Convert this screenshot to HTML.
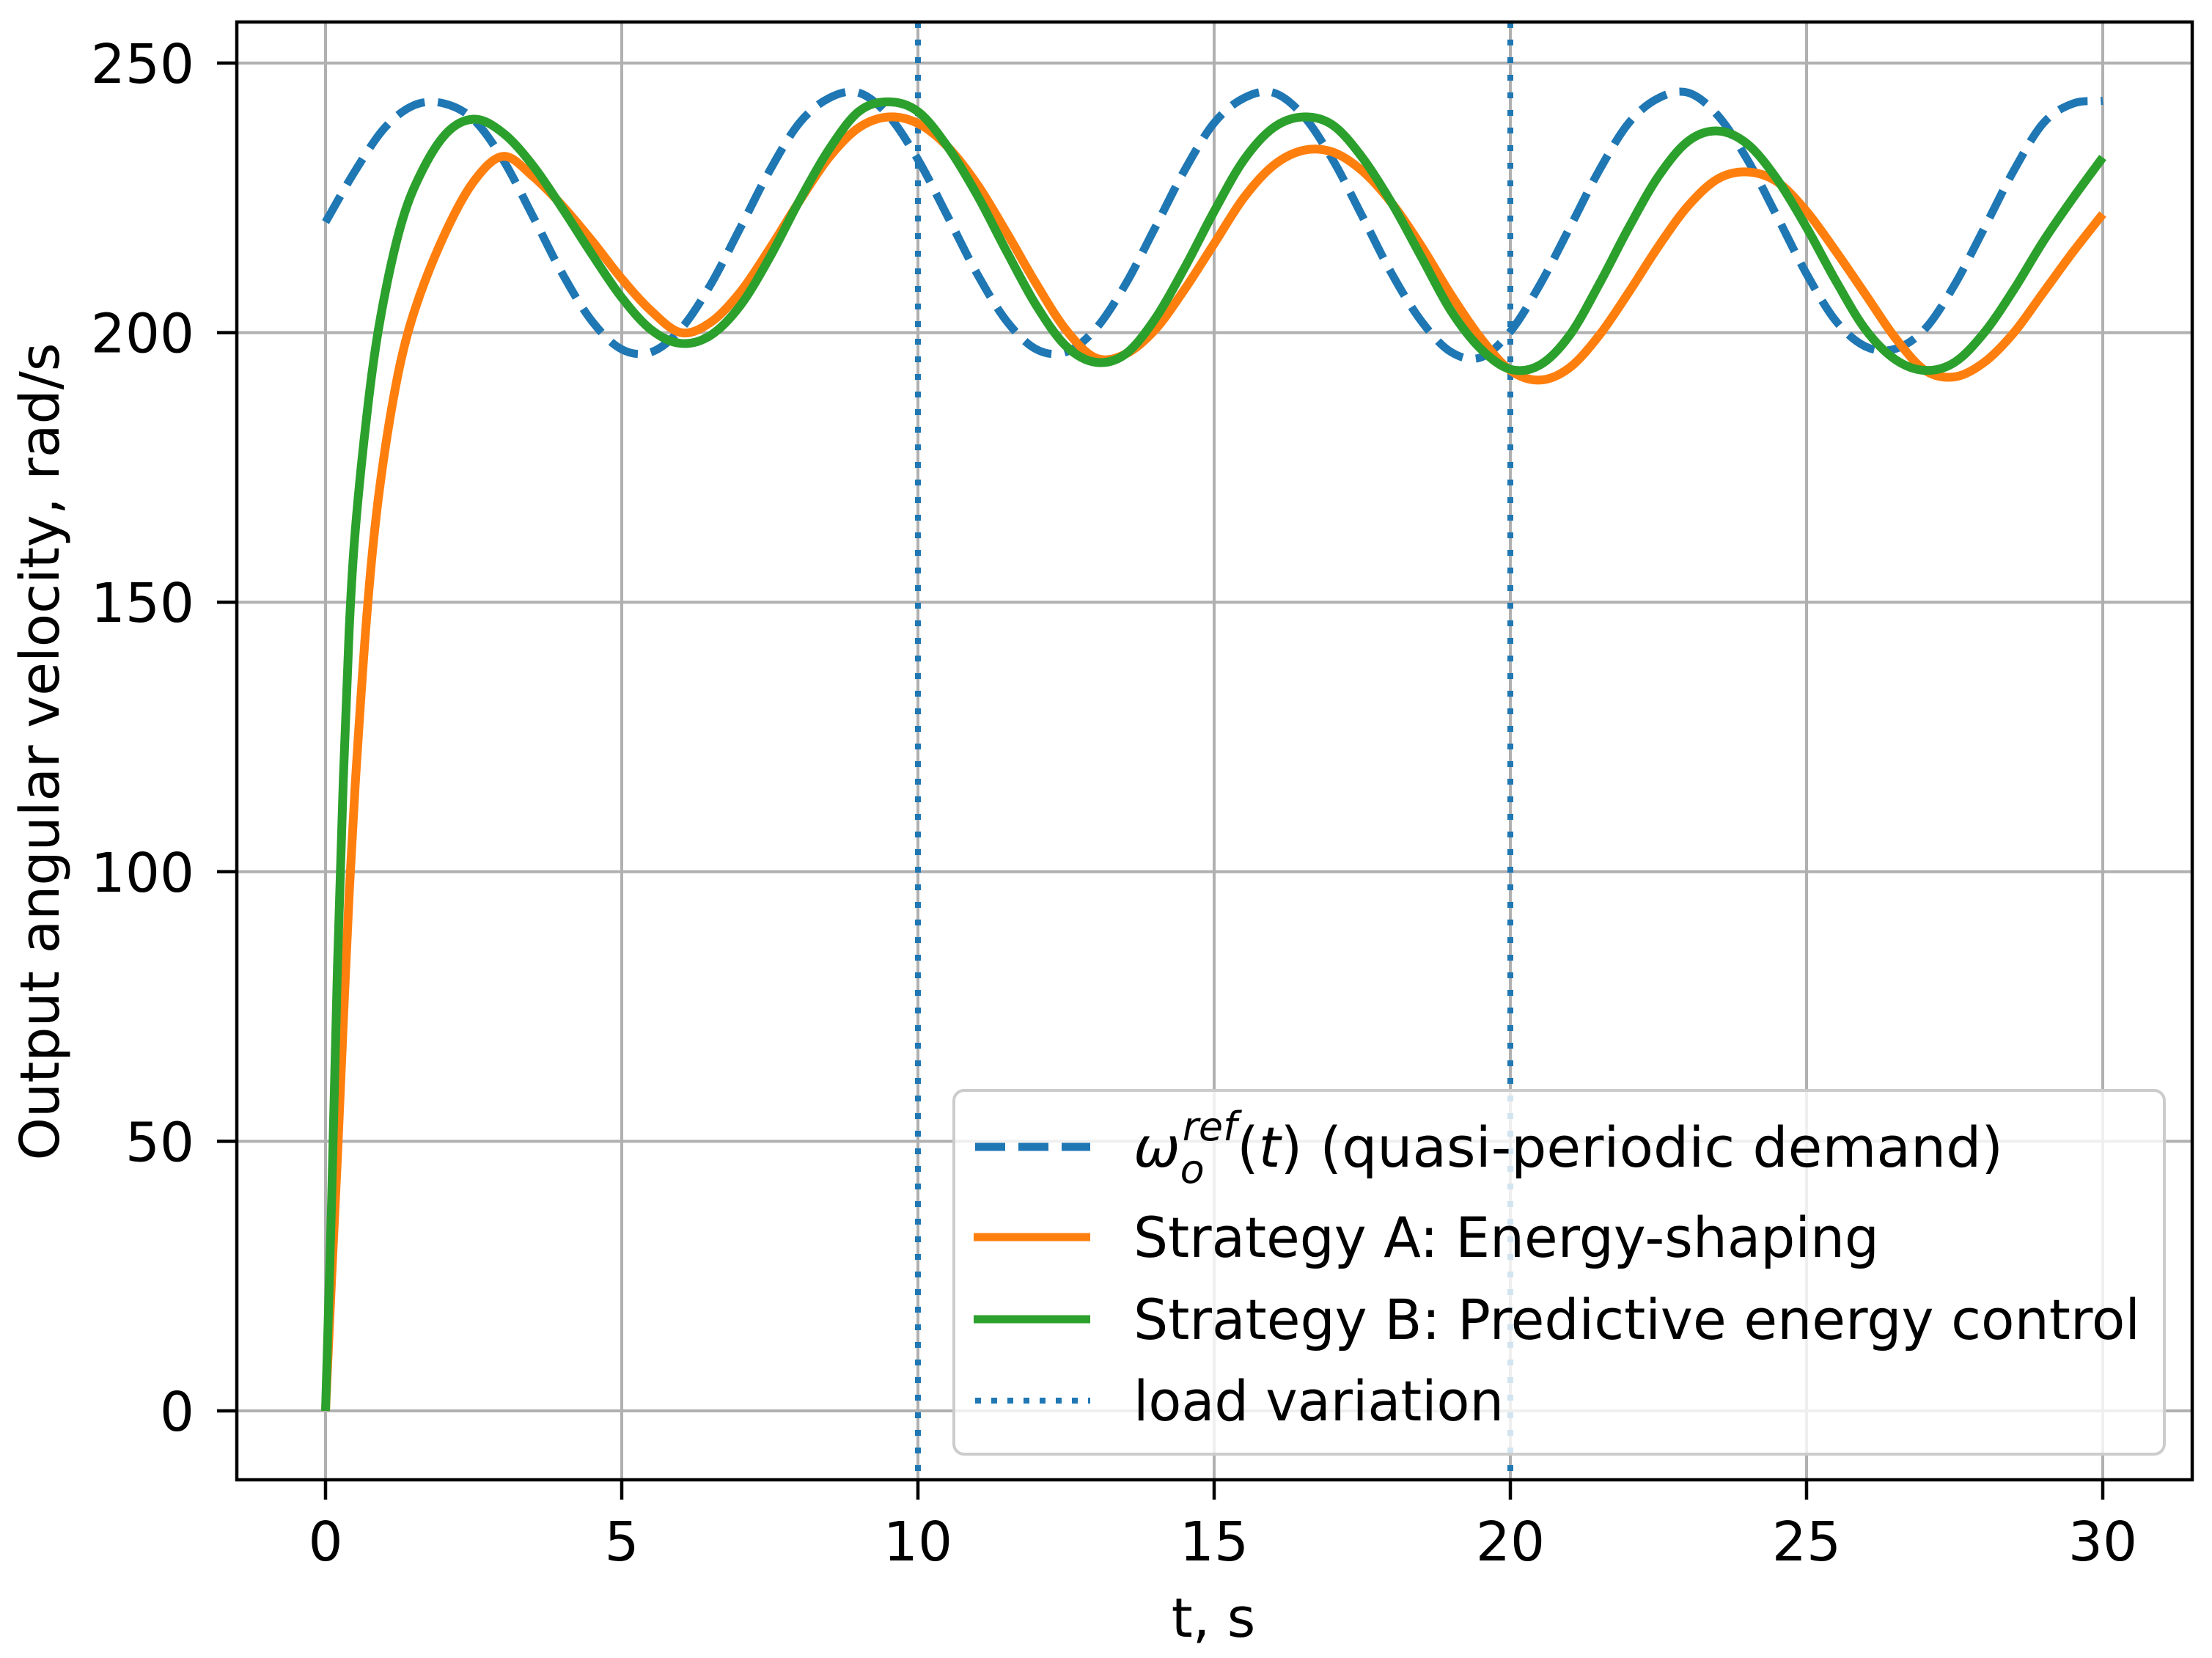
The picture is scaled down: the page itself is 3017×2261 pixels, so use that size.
<!DOCTYPE html>
<html><head><meta charset="utf-8"><style>
html,body{margin:0;padding:0;background:#fff;}
svg{display:block;font-family:"DejaVu Sans","Liberation Sans",sans-serif;}
</style></head><body>
<svg id="chart" width="3017" height="2261" viewBox="0 0 3017 2261" xmlns="http://www.w3.org/2000/svg">
<rect width="3017" height="2261" fill="#fff"/>
<g id="grid"></g>
<g id="vlines"></g>
<g id="series"></g>
<g id="legend">
  <rect x="1301" y="1487" width="1651" height="496" rx="14" fill="#fff" fill-opacity="0.8" stroke="#cccccc" stroke-width="4"/>
  <line x1="1330" y1="1564" x2="1487" y2="1564" stroke="#1f77b4" stroke-width="11" stroke-dasharray="41 18"/>
  <text x="1546" y="1591" font-size="76"><tspan font-style="italic">ω</tspan><tspan font-style="italic" font-size="54" dy="22">o</tspan><tspan font-style="italic" font-size="54" dx="-30" dy="-58">ref</tspan><tspan dy="36">(</tspan><tspan font-style="italic">t</tspan><tspan>) (quasi-periodic demand)</tspan></text>
  <line x1="1328" y1="1687" x2="1487" y2="1687" stroke="#ff7f0e" stroke-width="11"/>
  <text x="1546" y="1714" font-size="76" textLength="1017" lengthAdjust="spacingAndGlyphs">Strategy A: Energy-shaping</text>
  <line x1="1328" y1="1799" x2="1487" y2="1799" stroke="#2ca02c" stroke-width="11"/>
  <text x="1546" y="1826" font-size="76" textLength="1373" lengthAdjust="spacingAndGlyphs">Strategy B: Predictive energy control</text>
  <line x1="1330" y1="1910" x2="1487" y2="1910" stroke="#1f77b4" stroke-width="8" stroke-dasharray="8 14"/>
  <text x="1546" y="1937" font-size="76" textLength="505" lengthAdjust="spacingAndGlyphs">load variation</text>
</g>
<rect x="323" y="30" width="2667" height="1988" fill="none" stroke="#000" stroke-width="4.5"/>
<g id="ticks"></g>
<text x="1655" y="2232" font-size="74" text-anchor="middle">t, s</text>
<text transform="translate(80,1025) rotate(-90)" font-size="74" text-anchor="middle" textLength="1115" lengthAdjust="spacingAndGlyphs">Output angular velocity, rad/s</text>
</svg>
<script>
const xTicks = [0, 5, 10, 15, 20, 25, 30];
const yTicks = [0, 50, 100, 150, 200, 250];
const loadTimes = [10, 20];
const refT = [0,0.5,1,1.5,2,2.5,3,3.5,4,4.5,5,5.5,6,6.5,7,7.5,8,8.5,9,9.5,10,10.5,11,11.5,12,12.5,13,13.5,14,14.5,15,15.5,16,16.5,17,17.5,18,18.5,19,19.5,20,20.5,21,21.5,22,22.5,23,23.5,24,24.5,25,25.5,26,26.5,27,27.5,28,28.5,29,29.5,30];
const refVals = [220.5,230,238,242.2,242.5,239.5,232,221.6,210.9,202.1,196.9,196.4,200.7,208.9,219.4,230.1,238.9,243.5,244.5,240.3,232.1,221.6,210.9,202.1,196.9,196.4,200.7,208.9,219.4,230.1,238.9,243.5,244.5,240.3,232.1,221.6,210.9,202.1,196.4,195.4,200.2,208.9,219.4,230.1,238.9,243.5,244.5,240.3,232.1,221.6,210.9,202.1,197.4,197,200.7,208.9,219.4,230.1,238.9,242.5,243];
const ctrlT = [0,0.1,0.2,0.3,0.4,0.5,0.7,0.9,1.2,1.5,2,2.5,3,3.5,4,4.5,5,5.5,6,6.5,7,7.5,8,8.5,9,9.5,10,10.5,11,11.5,12,12.5,13,13.5,14,14.5,15,15.5,16,16.5,17,17.5,18,18.5,19,19.5,20,20.5,21,21.5,22,22.5,23,23.5,24,24.5,25,25.5,26,26.5,27,27.5,28,28.5,29,29.5,30];
const stratA = [0,24,47,72,96,116,148,170,191,204,218,228,232.7,229,223.5,217,210,204,200,201.9,207.5,215.6,224.4,232.5,238,240,238.8,234.5,227.5,218.5,209,200.5,195.3,196,200.5,208,216.5,225,231,233.8,233.5,230,224,216,207,199,193,191.2,193.5,199.5,207.5,216,223.5,228.5,229.8,228,222.5,215,207,199,193,191.8,194.5,200,207.5,215,222];
const stratB = [0,38,82,117,145,163,185,201,217,227,236.5,239.6,237,231,223,214.5,206.5,200.5,198,199.5,205,214,224.5,234,241,242.8,241,234.5,225.5,215,205,197.5,194.5,196,202.5,212,222.5,232,238,240,238.5,232.5,224,214,204,197,193.2,194,199.5,209,219.5,229,235.5,237.4,235,228.5,219.5,209.5,200.5,195,193,194.5,200,208,217,225,232.5];

const NS = 'http://www.w3.org/2000/svg';
const X0 = 444, XS = 80.8, Y0 = 1924, YS = 7.352;
const L = 323, R = 2990, T = 30, B = 2018;
function sx(t){ return X0 + t * XS; }
function sy(v){ return Y0 - v * YS; }
function mk(tag, attrs, parent){
  const e = document.createElementNS(NS, tag);
  for (const k in attrs) e.setAttribute(k, attrs[k]);
  parent.appendChild(e);
  return e;
}
const grid = document.getElementById('grid');
const ticks = document.getElementById('ticks');
xTicks.forEach(t => {
  const g = mk('line', {x1: sx(t), x2: sx(t), y1: T, y2: B, stroke: '#b0b0b0', 'stroke-width': 4}, grid);
  
  
  const tk = mk('line', {x1: sx(t), x2: sx(t), y1: B, y2: B + 27, stroke: '#000', 'stroke-width': 4.5}, ticks);
  
  
  const lb = mk('text', {x: sx(t), y: 2128, 'font-size': 74, 'text-anchor': 'middle'}, ticks);
  lb.textContent = String(t);
  
  
});
yTicks.forEach(v => {
  const g = mk('line', {x1: L, x2: R, y1: sy(v), y2: sy(v), stroke: '#b0b0b0', 'stroke-width': 4}, grid);
  
  
  const tk = mk('line', {x1: L - 27, x2: L, y1: sy(v), y2: sy(v), stroke: '#000', 'stroke-width': 4.5}, ticks);
  
  
  const lb = mk('text', {x: 265, y: sy(v) + 27, 'font-size': 74, 'text-anchor': 'end'}, ticks);
  lb.textContent = String(v);
  
  
});
const vl = document.getElementById('vlines');
loadTimes.forEach(t => {
  const l = mk('line', {x1: sx(t), x2: sx(t), y1: T, y2: B, stroke: '#1f77b4', 'stroke-width': 8, 'stroke-dasharray': '8 16'}, vl);
  
  
});
function smoothPath(ts, vs){
  const n = ts.length;
  const m = ts.map((t, i) => {
    const a = Math.max(0, i - 1), b = Math.min(n - 1, i + 1);
    return (vs[b] - vs[a]) / (ts[b] - ts[a]);
  });
  let d = 'M' + sx(ts[0]).toFixed(1) + ' ' + sy(vs[0]).toFixed(1);
  for (let i = 0; i < n - 1; i++){
    const dt = ts[i + 1] - ts[i];
    const c1t = ts[i] + dt / 3, c1v = vs[i] + m[i] * dt / 3;
    const c2t = ts[i + 1] - dt / 3, c2v = vs[i + 1] - m[i + 1] * dt / 3;
    d += ' C' + sx(c1t).toFixed(1) + ' ' + sy(c1v).toFixed(1) + ' ' + sx(c2t).toFixed(1) + ' ' + sy(c2v).toFixed(1) + ' ' + sx(ts[i + 1]).toFixed(1) + ' ' + sy(vs[i + 1]).toFixed(1);
  }
  return d;
}
const ser = document.getElementById('series');
const pr = mk('path', {d: smoothPath(refT, refVals), fill: 'none', stroke: '#1f77b4', 'stroke-width': 11, 'stroke-dasharray': '41 18'}, ser);


const pa = mk('path', {d: smoothPath(ctrlT, stratA), fill: 'none', stroke: '#ff7f0e', 'stroke-width': 12, 'stroke-linejoin': 'round'}, ser);


const pb = mk('path', {d: smoothPath(ctrlT, stratB), fill: 'none', stroke: '#2ca02c', 'stroke-width': 12, 'stroke-linejoin': 'round'}, ser);


</script>
</body></html>
